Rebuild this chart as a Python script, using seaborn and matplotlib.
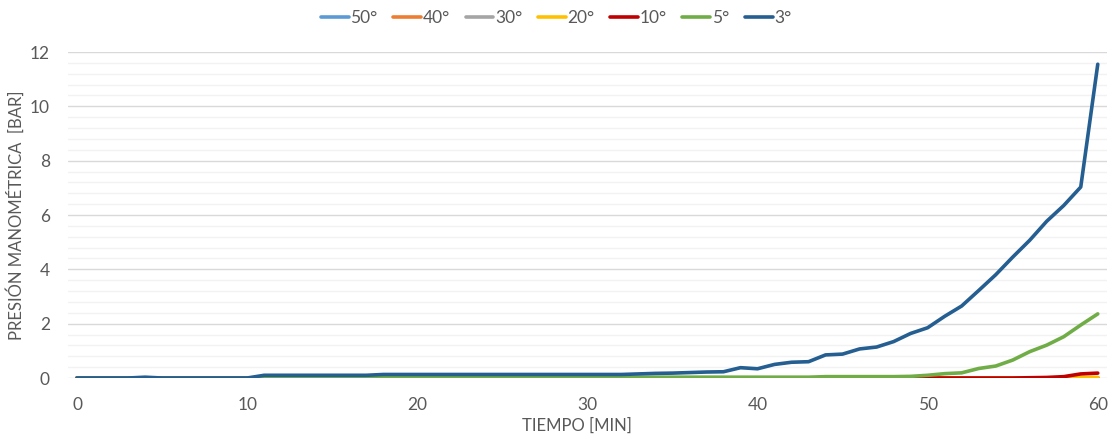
import numpy as np
import pandas as pd
import matplotlib
matplotlib.use('Agg')
import matplotlib.pyplot as plt
import seaborn as sns

# tiempo en minutos
tiempo = list(range(0, 61))

# presión manométrica [bar] por ángulo
p50 = [0.0] * 61
p40 = [0.0] * 61
p30 = [0.0] * 61
p20 = [0.0] * 59 + [0.02, 0.02]
p10 = [0.0] * 56 + [0.01, 0.02, 0.05, 0.15, 0.18]
p5 = ([0.0] * 11 + [0.02] * 22 + [0.03] * 11 + [0.05] * 5 +
      [0.06, 0.1, 0.16, 0.19, 0.35, 0.44, 0.66, 0.97, 1.21, 1.52, 1.95, 2.36])
p3 = ([0.0, 0.0, 0.0, 0.0, 0.03, 0.0, 0.0, 0.0, 0.0, 0.0, 0.0] +
      [0.1] * 7 + [0.13] * 15 +
      [0.15, 0.17, 0.18, 0.2, 0.22, 0.23, 0.38, 0.34, 0.5, 0.58, 0.6,
       0.85, 0.88, 1.07, 1.14, 1.34, 1.64, 1.85, 2.27, 2.65, 3.22, 3.8,
       4.45, 5.07, 5.77, 6.35, 7.03, 11.55])

series = ['50°', '40°', '30°', '20°', '10°', '5°', '3°']
valores = [p50, p40, p30, p20, p10, p5, p3]
colores = ['#5B9BD5', '#ED7D31', '#A5A5A5', '#FFC000', '#C00000', '#70AD47', '#255E91']

df = pd.concat([pd.DataFrame({'Tiempo': tiempo, 'Presion': v, 'Serie': s})
                for s, v in zip(series, valores)], ignore_index=True)

sns.set_style('white')
plt.rcParams['font.family'] = ['Lato', 'DejaVu Sans']

fig = plt.figure(figsize=(11.11, 4.4), dpi=100)
ax = fig.add_axes([0.0612, 0.1409, 0.935, 0.7409])

sns.lineplot(data=df, x='Tiempo', y='Presion', hue='Serie', hue_order=series,
             palette=dict(zip(series, colores)), linewidth=2.6, ax=ax,
             legend=True)

ax.set_xlim(-0.53, 60.53)
ax.set_ylim(0, 12)
ax.set_xticks(range(0, 61, 10))
ax.set_yticks(range(0, 13, 2))
ax.set_yticks(np.arange(0, 12.01, 0.4), minor=True)
ax.grid(True, which='major', axis='y', color='#D9D9D9', linewidth=1)
ax.grid(True, which='minor', axis='y', color='#F2F2F2', linewidth=1)
ax.set_axisbelow(True)
for s in ax.spines.values():
    s.set_visible(False)
ax.tick_params(axis='both', which='both', length=0, labelsize=12.5, labelcolor='#595959')
ax.tick_params(axis='x', pad=14)
ax.tick_params(axis='y', pad=13)

ax.set_xlabel('TIEMPO [MIN]', fontsize=12, color='#595959')
ax.set_ylabel('PRESIÓN MANOMÉTRICA  [BAR]', fontsize=12, color='#595959')
ax.xaxis.set_label_coords(0.49, -0.122)
ax.yaxis.set_label_coords(-0.042, 0.5)

handles, labels = ax.get_legend_handles_labels()
ax.legend(handles, labels, loc='center', bbox_to_anchor=(0.47, 1.104), ncol=7,
          frameon=False, fontsize=12.5, labelcolor='#595959', handlelength=1.6,
          handletextpad=0.1, columnspacing=0.9)

fig.savefig('out.png', dpi=100)
